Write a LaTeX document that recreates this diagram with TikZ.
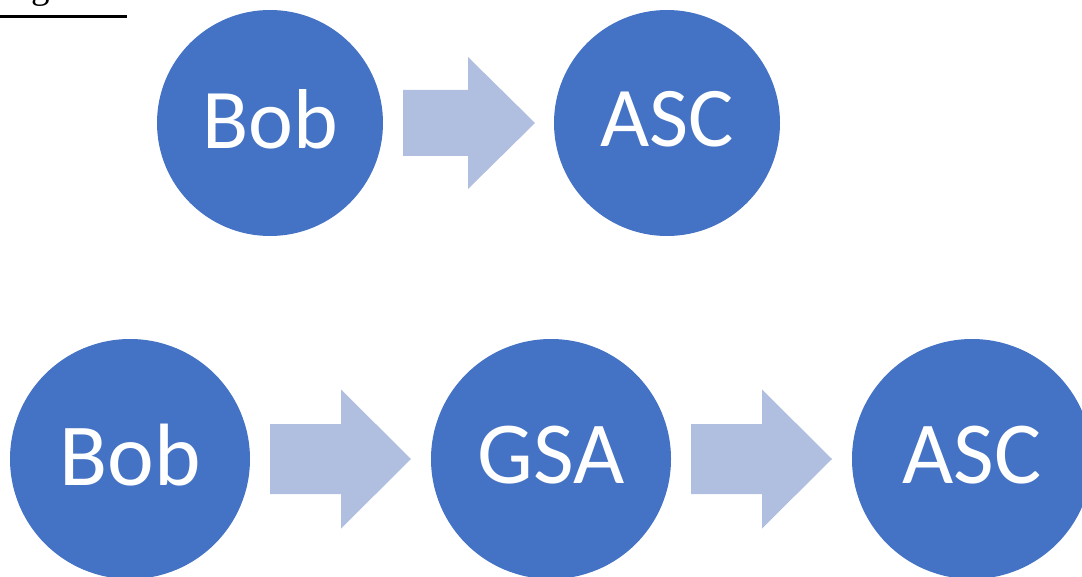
\documentclass[tikz,border=0pt]{standalone}
\usepackage{fontspec}
\setmainfont{Liberation Serif}
\newfontfamily\carlito{Carlito}
\definecolor{circblue}{HTML}{4472C4}
\definecolor{arrblue}{HTML}{B0BEE0}
\begin{document}
\begin{tikzpicture}[x=1pt,y=-1pt,
  circ/.style={circle,fill=circblue,inner sep=0pt,text=white,text depth=8pt,font=\carlito\fontsize{85}{85}\selectfont},
  small/.style={circ,minimum size=226pt},
  big/.style={circ,minimum size=240pt,font=\carlito\fontsize{88.5}{88.5}\selectfont}]
\useasboundingbox (0,0) rectangle (1082,577);
\clip (0,0) rectangle (1082,577);
% block arrow: #1 = x of shaft start, #2 = center y, #3 = shaft length, #4 = head length, #5 = half shaft, #6 = half head
\newcommand{\blockarrow}[6]{%
  \fill[arrblue] (#1,#2-#5) -- ++(#3,0) -- (#1+#3,#2-#6) -- (#1+#3+#4,#2) -- (#1+#3,#2+#6) -- (#1+#3,#2+#5) -- (#1,#2+#5) -- cycle;}
% caption
\node[anchor=base west,inner sep=0pt,font=\fontsize{37}{37}\selectfont] (cap) at (0,-1.5) {Figure 3};
\draw[line width=2.4pt] (0,16.5) -- (127,16.5);
% top row
\node[small] (bob1) at (270,123) {Bob};
\node[small] (asc1) at (667,123) {ASC};
\blockarrow{403}{123}{65}{67}{33}{66}
% bottom row
\node[big] (bob2) at (130,459) {Bob};
\node[big] (gsa) at (551,459) {GSA};
\node[big] (asc2) at (972,459) {ASC};
\blockarrow{270}{459}{71}{70}{35}{69.5}
\blockarrow{691}{459}{71}{70}{35}{69.5}
\end{tikzpicture}
\end{document}
